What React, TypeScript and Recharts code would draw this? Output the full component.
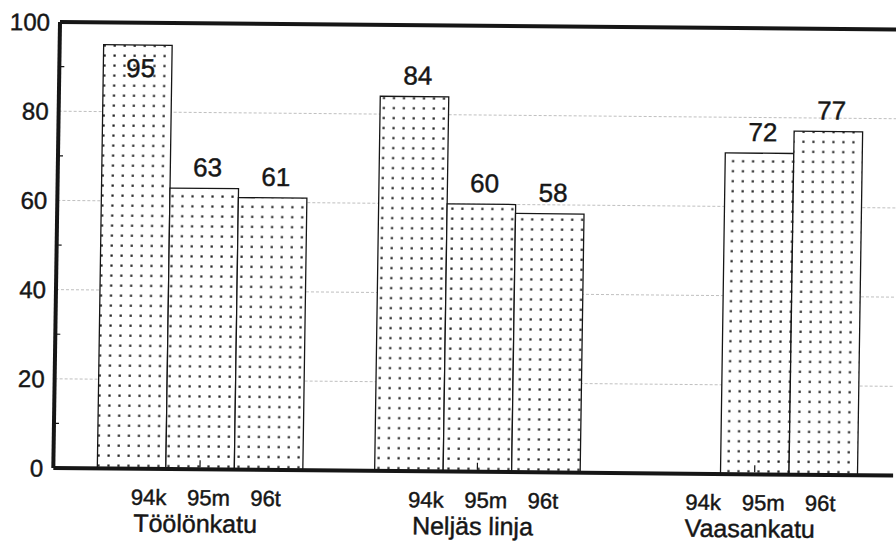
import React from 'react';
import { BarChart, Bar, XAxis, YAxis, CartesianGrid, ReferenceLine, LabelList } from 'recharts';

const categories = ['Töölönkatu', 'Neljäs linja', 'Vaasankatu'];
const seriesKeys = ['94k', '95m', '96t'];
const s94k: (number | null)[] = [95, 84, null];
const s95m: (number | null)[] = [63, 60, 72];
const s96t: (number | null)[] = [61, 58, 77];
const yTicks = [0, 10, 20, 30, 40, 50, 60, 70, 80, 90, 100];
const gridValues = [20, 40, 60, 80];

const seriesValues = [s94k, s95m, s96t];
const data = categories.map((name, i) => {
  const row: Record<string, any> = { name };
  seriesKeys.forEach((k, j) => {
    row[k] = seriesValues[j][i];
  });
  return row;
});

const FONT = "'Liberation Sans', Arial, Helvetica, sans-serif";
const INK = '#161616';
const subOffsets = [-51, 9, 66];
const textStyle = { fontFamily: FONT, fill: INK, stroke: INK, strokeWidth: 0.45 };

const XTick = (props: any) => {
  const { x, y, payload } = props;
  return (
    <g>
      <line x1={x} y1={y - 2} x2={x} y2={y - 9} stroke={INK} strokeWidth={1.2} />
      {seriesKeys.map((k, i) => (
        <text key={k} x={x + subOffsets[i]} y={y + 36} textAnchor="middle" fontSize={22} {...textStyle}>
          {k}
        </text>
      ))}
      <text x={x - 4} y={y + 63} textAnchor="middle" fontSize={25} {...textStyle}>
        {payload.value}
      </text>
    </g>
  );
};

const YTick = (props: any) => {
  const { x, y, payload } = props;
  if (payload.value % 20 !== 0) {
    return <line x1={x + 10} y1={y} x2={x + 15} y2={y} stroke={INK} strokeWidth={1.2} />;
  }
  return (
    <text x={x} y={y} dy="0.36em" textAnchor="end" fontSize={24} {...textStyle}>
      {payload.value}
    </text>
  );
};

const ValueLabel = (props: any) => {
  const { x, y, width, value } = props;
  if (value === null || value === undefined) return null;
  const inside = y < 60;
  return (
    <text
      x={x + width / 2 + 3}
      y={inside ? y + 32 : y - 12}
      textAnchor="middle"
      fontSize={26}
      {...textStyle}
    >
      {value}
    </text>
  );
};

export default function App() {
  return (
    <div style={{ position: 'absolute', left: 0, top: 0, width: 896, height: 544, overflow: 'hidden', background: '#fff' }}>
      <div style={{ transform: 'matrix(1, 0.009, -0.015, 1, 0, 0)', transformOrigin: '60px 22px', width: 900, height: 544 }}>
        <BarChart
          width={900}
          height={544}
          data={data}
          margin={{ top: 22, right: 0, bottom: 0, left: 0 }}
          barGap={0}
          barSize={68.5}
        >
          <defs>
            <pattern id="dots" width="10" height="10" patternUnits="userSpaceOnUse">
              <rect width="10" height="10" fill="#fff" />
              <rect x="4" y="4" width="2.2" height="2.2" fill="#222" />
            </pattern>
          </defs>
          <CartesianGrid vertical={false} horizontalValues={gridValues} stroke="#b0b0b0" strokeDasharray="3 2" strokeWidth={0.8} />
          <XAxis
            dataKey="name"
            type="category"
            interval={0}
            padding={{ left: 8, right: 0 }}
            height={76}
            tickSize={0}
            tickMargin={0}
            tickLine={false}
            axisLine={{ stroke: INK, strokeWidth: 4 }}
            tick={<XTick />}
          />
          <YAxis
            type="number"
            domain={[0, 100]}
            ticks={yTicks}
            interval={0}
            width={60}
            tickSize={0}
            tickMargin={10}
            tickLine={false}
            axisLine={{ stroke: INK, strokeWidth: 4 }}
            tick={<YTick />}
          />
          {seriesKeys.map((k) => (
            <Bar key={k} dataKey={k} fill="url(#dots)" stroke={INK} strokeWidth={1.3} isAnimationActive={false}>
              <LabelList dataKey={k} content={<ValueLabel />} />
            </Bar>
          ))}
          <ReferenceLine y={100} stroke={INK} strokeWidth={4} ifOverflow="extendDomain" />
        </BarChart>
      </div>
    </div>
  );
}
